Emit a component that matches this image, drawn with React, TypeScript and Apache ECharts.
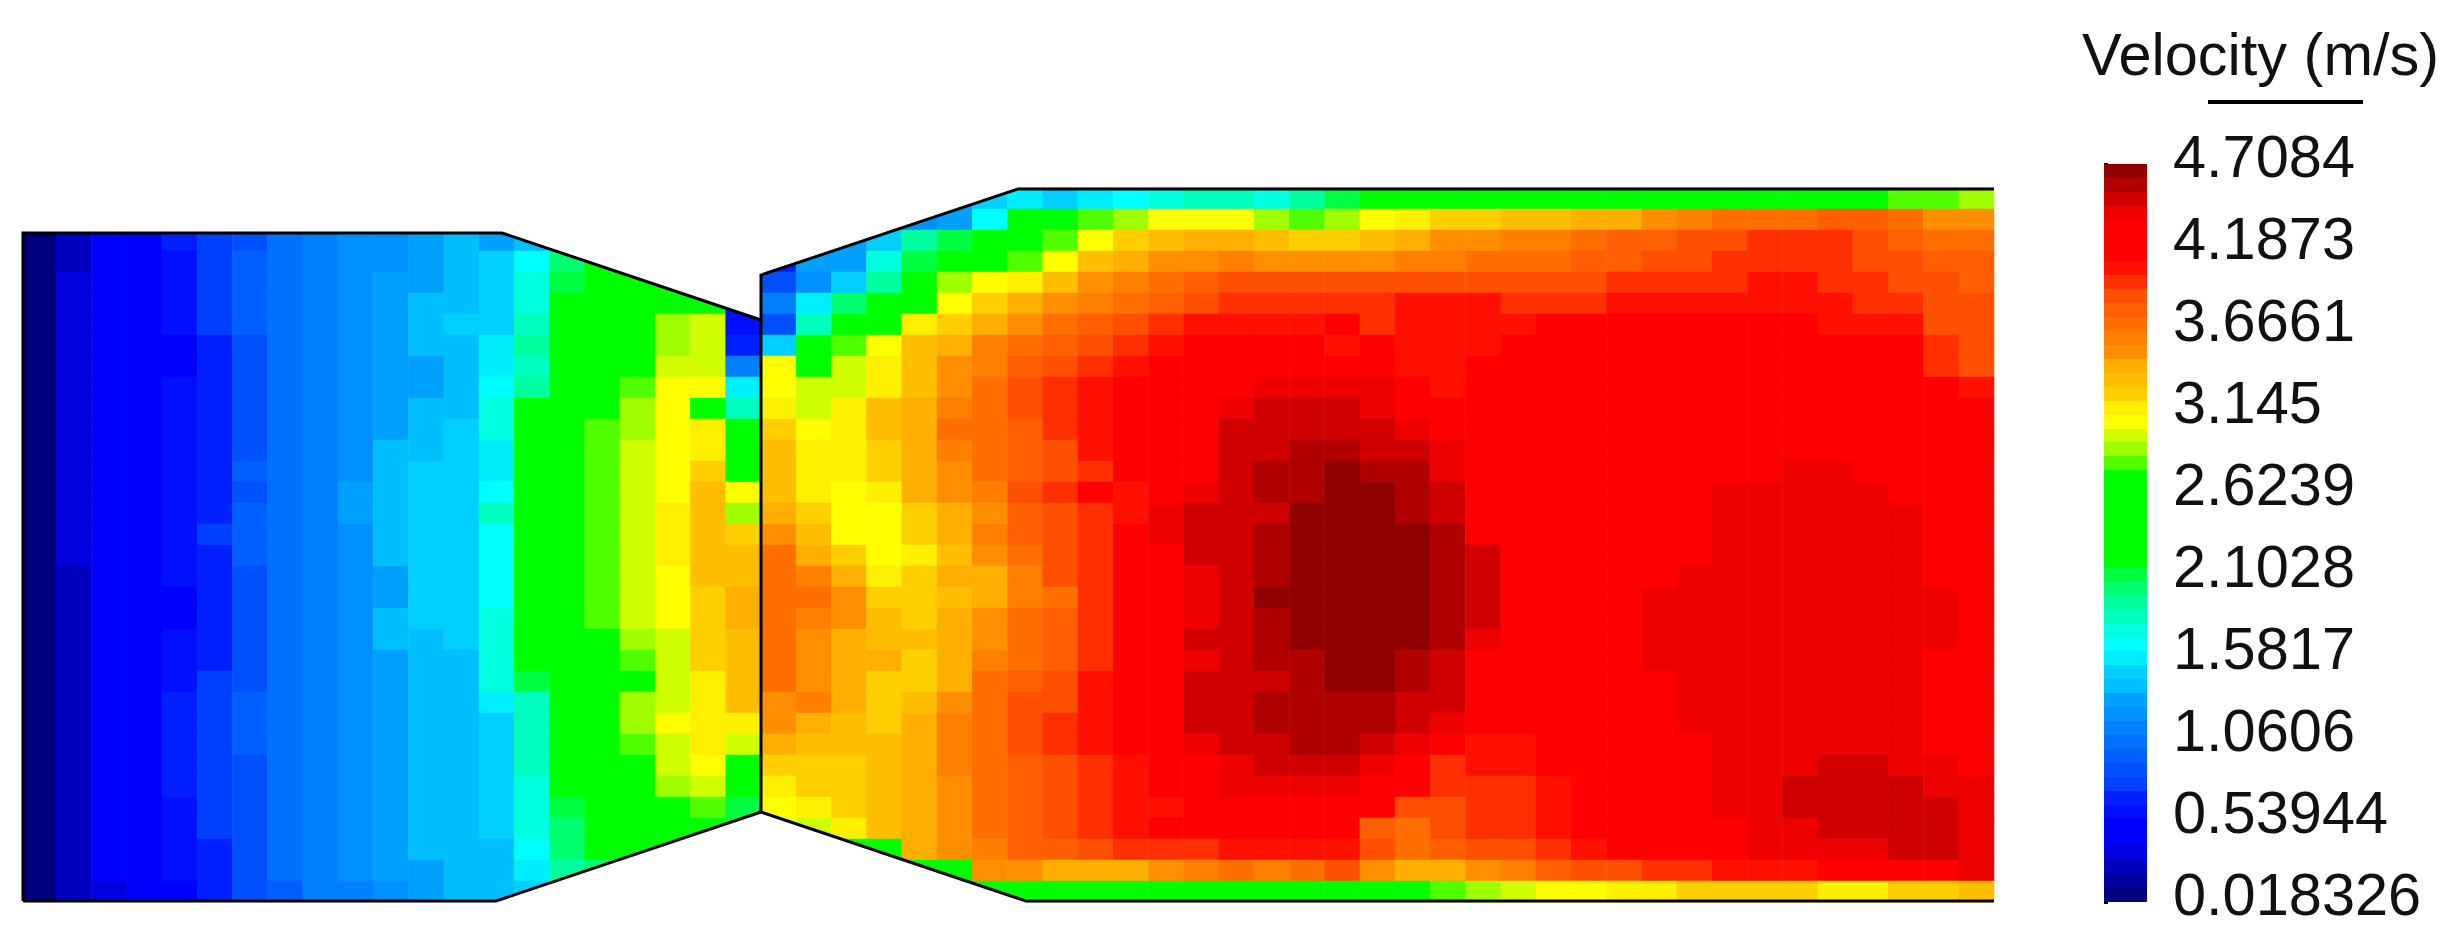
import React, { useEffect, useRef } from "react";
import * as echarts from "echarts";

const n = null;

// Velocity (m/s): inlet section, rows 2..33 of the mesh, 21 columns
const inletRows: (number | null)[][] = [
  [.1,.28,.42,.5,.65,.8,.9,1.0,1.13,1.22,1.22,1.31,1.4,1.31,1.4,1.6,n,n,n,n,n],
  [.1,.25,.42,.5,.6,.8,.95,1.0,1.13,1.22,1.22,1.31,1.4,1.49,1.67,2.0,2.4,n,n,n,n],
  [.08,.33,.45,.5,.6,.8,.95,1.04,1.13,1.22,1.31,1.31,1.4,1.49,1.75,2.1,2.4,2.4,2.4,n,n],
  [.08,.33,.42,.5,.6,.77,.95,1.04,1.13,1.22,1.31,1.36,1.4,1.49,1.75,2.2,2.4,2.4,2.4,2.4,.6],
  [.08,.3,.45,.5,.55,.75,.95,1.04,1.13,1.22,1.31,1.4,1.45,1.5,1.8,2.3,2.4,2.6,2.9,3.0,.55],
  [.08,.3,.45,.5,.5,.7,.9,1.04,1.13,1.22,1.31,1.4,1.4,1.58,1.9,2.3,2.4,2.7,2.9,3.0,.7],
  [.08,.3,.45,.5,.5,.65,.9,1.0,1.13,1.22,1.31,1.31,1.4,1.58,1.85,2.3,2.4,2.7,2.95,2.98,1.1],
  [.08,.3,.45,.5,.55,.68,.86,1.0,1.1,1.22,1.31,1.31,1.4,1.62,1.9,2.3,2.4,2.8,3.05,3.07,1.6],
  [.08,.3,.45,.5,.6,.72,.86,1.0,1.1,1.22,1.31,1.4,1.4,1.7,2.15,2.35,2.5,2.9,3.05,2.6,1.8],
  [.08,.3,.48,.5,.6,.72,.86,1.0,1.1,1.22,1.31,1.4,1.49,1.7,2.15,2.4,2.8,2.9,3.08,3.2,2.3],
  [.08,.33,.48,.5,.55,.72,.9,1.04,1.13,1.22,1.36,1.4,1.49,1.58,2.2,2.4,2.8,2.95,3.1,3.15,2.4],
  [.08,.33,.5,.5,.55,.68,.95,1.04,1.15,1.25,1.4,1.45,1.49,1.6,2.3,2.4,2.8,2.98,3.1,3.25,2.6],
  [.08,.33,.5,.5,.6,.68,.9,1.04,1.15,1.3,1.4,1.49,1.49,1.67,2.3,2.4,2.8,2.98,3.1,3.3,3.07],
  [.08,.33,.5,.5,.6,.72,.95,1.04,1.13,1.3,1.4,1.49,1.49,1.8,2.3,2.4,2.8,2.98,3.15,3.3,2.9],
  [.08,.33,.45,.5,.6,.75,.95,1.04,1.13,1.25,1.4,1.49,1.49,1.67,2.3,2.4,2.8,2.98,3.18,3.3,3.25],
  [.08,.3,.45,.5,.55,.72,.95,1.04,1.13,1.22,1.36,1.45,1.49,1.67,2.25,2.4,2.8,3.0,3.15,3.3,3.35],
  [.08,.28,.42,.5,.55,.68,.9,1.04,1.13,1.22,1.31,1.45,1.49,1.67,2.25,2.4,2.8,2.95,3.07,3.3,3.35],
  [.08,.28,.42,.5,.5,.65,.86,1.04,1.1,1.22,1.31,1.45,1.49,1.67,2.25,2.4,2.8,2.95,3.07,3.25,3.4],
  [.08,.28,.42,.5,.5,.65,.86,1.0,1.13,1.22,1.36,1.45,1.49,1.7,2.2,2.4,2.8,2.95,3.07,3.25,3.4],
  [.08,.28,.42,.45,.55,.68,.86,1.0,1.13,1.22,1.36,1.4,1.45,1.75,2.15,2.35,2.6,2.9,3.0,3.25,3.38],
  [.08,.28,.4,.45,.55,.72,.9,1.0,1.13,1.22,1.31,1.36,1.4,1.78,2.15,2.35,2.4,2.85,3.0,3.25,3.38],
  [.08,.25,.4,.45,.6,.77,.9,1.04,1.13,1.22,1.31,1.36,1.4,1.75,2.1,2.35,2.4,2.65,3.0,3.15,3.35],
  [.08,.25,.4,.45,.65,.8,.95,1.04,1.13,1.22,1.31,1.4,1.4,1.6,1.85,2.35,2.55,2.9,3.0,3.15,3.3],
  [.08,.25,.42,.5,.65,.8,.95,1.04,1.13,1.22,1.31,1.4,1.4,1.45,1.85,2.3,2.75,2.9,3.07,3.2,3.15],
  [.08,.25,.42,.5,.65,.8,.95,1.04,1.1,1.22,1.31,1.4,1.4,1.45,1.8,2.3,2.6,2.85,3.0,3.12,2.95],
  [.08,.25,.42,.5,.65,.8,.9,1.0,1.1,1.22,1.31,1.36,1.4,1.45,1.8,2.25,2.4,2.7,2.95,3.1,2.4],
  [.08,.25,.42,.5,.65,.75,.9,1.0,1.13,1.22,1.31,1.36,1.4,1.49,1.75,2.15,2.4,2.65,2.9,3.0,2.3],
  [.08,.25,.42,.5,.6,.75,.9,1.04,1.13,1.22,1.31,1.36,1.4,1.49,1.7,2.1,2.4,2.4,2.6,2.85,2.1],
  [.08,.25,.42,.5,.6,.75,.86,1.04,1.13,1.22,1.31,1.36,1.4,1.5,1.7,2.05,2.4,2.4,2.4,2.4,2.1],
  [.08,.25,.4,.45,.6,.72,.86,1.0,1.1,1.22,1.31,1.36,1.4,1.4,1.65,2.0,2.2,2.4,2.4,n,n],
  [.08,.25,.4,.45,.55,.7,.86,1.0,1.1,1.22,1.31,1.31,1.36,1.4,1.6,1.9,2.0,n,n,n,n],
  [.08,.22,.35,.45,.5,.68,.82,.95,1.1,1.13,1.22,1.31,1.36,1.4,1.5,n,n,n,n,n,n],
];

// Outlet section: rows 0..33, columns 21..55
const outletRows: (number | null)[][] = [
  [n,n,n,n,n,1.3,1.45,1.58,1.5,1.58,1.67,1.75,1.85,1.85,1.72,1.95,2.1,2.4,2.4,2.4,2.4,2.4,2.4,2.4,2.4,2.4,2.4,2.4,2.4,2.4,2.4,2.55,2.8,2.8,2.9],
  [n,n,n,n,1.22,1.3,1.67,2.3,2.4,2.8,2.9,3.05,3.1,3.1,2.9,2.8,2.9,3.07,3.16,3.25,3.25,3.33,3.33,3.42,3.42,3.55,3.6,3.69,3.69,3.7,3.78,3.78,3.7,3.55,3.5],
  [n,n,1.3,1.45,1.9,2.1,2.3,2.4,2.85,3.07,3.25,3.3,3.4,3.45,3.33,3.25,3.25,3.3,3.4,3.5,3.55,3.6,3.6,3.69,3.78,3.8,3.87,3.9,3.96,3.96,3.96,3.87,3.78,3.69,3.69],
  [.7,1.3,1.3,1.75,2.1,2.4,2.4,2.8,3.1,3.3,3.45,3.5,3.55,3.6,3.5,3.5,3.5,3.55,3.6,3.6,3.69,3.69,3.7,3.78,3.8,3.87,3.9,3.96,3.96,3.96,3.96,3.9,3.87,3.78,3.78],
  [.9,1.25,1.5,1.9,2.4,2.9,3.07,3.2,3.3,3.5,3.6,3.65,3.78,3.85,3.87,3.87,3.87,3.87,3.87,3.87,3.87,3.87,3.87,3.87,3.96,3.96,3.96,3.96,4.05,4.05,4.0,3.96,3.9,3.87,3.78],
  [1.13,1.6,2.0,2.3,2.7,3.05,3.25,3.4,3.5,3.6,3.69,3.78,3.9,3.96,3.96,3.96,3.96,3.96,4.05,4.05,4.05,3.96,3.96,3.96,4.05,4.05,4.05,4.05,4.05,4.05,4.05,3.96,3.96,3.87,3.87],
  [.9,1.85,2.3,2.4,3.16,3.25,3.4,3.55,3.65,3.78,3.87,3.96,4.05,4.05,4.05,4.05,4.1,3.96,4.05,4.05,4.05,4.05,4.2,4.2,4.2,4.2,4.2,4.2,4.2,4.2,4.05,4.05,4.05,3.9,3.87],
  [1.5,2.2,2.85,3.07,3.3,3.4,3.6,3.69,3.78,3.9,3.96,4.05,4.2,4.2,4.2,4.2,4.05,4.1,4.05,4.05,4.05,4.2,4.2,4.2,4.2,4.2,4.2,4.2,4.2,4.2,4.2,4.2,4.2,4.0,3.87],
  [3.05,2.7,3.0,3.16,3.35,3.5,3.6,3.78,3.87,3.96,4.05,4.2,4.2,4.2,4.2,4.2,4.2,4.1,4.05,4.05,4.2,4.2,4.2,4.2,4.2,4.2,4.2,4.2,4.2,4.2,4.2,4.2,4.2,4.0,3.87],
  [3.07,2.98,3.0,3.2,3.35,3.55,3.69,3.85,3.96,4.05,4.2,4.2,4.2,4.2,4.4,4.4,4.4,4.4,4.2,4.05,4.2,4.2,4.2,4.2,4.2,4.2,4.2,4.2,4.2,4.2,4.2,4.2,4.2,4.2,4.05],
  [3.2,3.0,3.15,3.3,3.4,3.6,3.69,3.87,3.96,4.05,4.2,4.2,4.2,4.4,4.45,4.49,4.49,4.4,4.3,4.2,4.2,4.2,4.2,4.2,4.2,4.2,4.2,4.2,4.2,4.2,4.2,4.2,4.2,4.2,4.2],
  [3.25,3.1,3.2,3.3,3.45,3.65,3.69,3.78,3.96,4.05,4.2,4.2,4.3,4.49,4.49,4.49,4.49,4.49,4.4,4.2,4.2,4.2,4.2,4.2,4.2,4.2,4.2,4.2,4.2,4.2,4.2,4.2,4.2,4.2,4.2],
  [3.3,3.2,3.16,3.25,3.45,3.6,3.65,3.78,3.87,4.05,4.2,4.2,4.3,4.45,4.5,4.58,4.58,4.49,4.49,4.4,4.2,4.2,4.2,4.2,4.2,4.2,4.2,4.2,4.2,4.2,4.2,4.2,4.2,4.2,4.2],
  [3.35,3.2,3.16,3.25,3.45,3.55,3.69,3.78,3.87,3.96,4.2,4.2,4.2,4.45,4.58,4.58,4.67,4.58,4.58,4.4,4.2,4.2,4.2,4.2,4.2,4.2,4.2,4.2,4.3,4.4,4.4,4.3,4.2,4.2,4.2],
  [3.35,3.2,3.1,3.2,3.4,3.5,3.6,3.85,3.96,4.2,4.05,4.3,4.4,4.49,4.58,4.6,4.67,4.67,4.58,4.49,4.2,4.2,4.2,4.2,4.2,4.2,4.2,4.4,4.4,4.4,4.4,4.4,4.3,4.2,4.2],
  [3.4,3.25,3.07,3.1,3.25,3.45,3.55,3.78,3.9,3.96,4.05,4.4,4.49,4.49,4.5,4.67,4.67,4.67,4.6,4.45,4.2,4.2,4.2,4.2,4.2,4.2,4.2,4.4,4.4,4.4,4.4,4.4,4.4,4.2,4.2],
  [3.5,3.3,3.07,3.07,3.25,3.42,3.6,3.78,3.87,3.96,4.2,4.4,4.49,4.49,4.58,4.67,4.67,4.67,4.67,4.58,4.3,4.2,4.2,4.2,4.2,4.2,4.3,4.4,4.4,4.4,4.4,4.4,4.4,4.2,4.2],
  [3.65,3.45,3.25,3.1,3.2,3.36,3.5,3.7,3.87,3.96,4.2,4.2,4.45,4.49,4.58,4.67,4.67,4.67,4.67,4.6,4.49,4.2,4.2,4.2,4.2,4.2,4.3,4.4,4.4,4.4,4.4,4.4,4.4,4.2,4.2],
  [3.7,3.6,3.4,3.16,3.25,3.4,3.45,3.6,3.87,3.96,4.2,4.3,4.4,4.5,4.58,4.67,4.67,4.67,4.67,4.58,4.49,4.2,4.2,4.2,4.2,4.2,4.4,4.4,4.4,4.4,4.4,4.4,4.4,4.3,4.2],
  [3.69,3.69,3.5,3.25,3.25,3.38,3.45,3.6,3.7,3.96,4.2,4.2,4.4,4.49,4.67,4.67,4.67,4.67,4.67,4.58,4.49,4.2,4.2,4.2,4.2,4.4,4.4,4.4,4.4,4.4,4.4,4.4,4.4,4.4,4.2],
  [3.72,3.6,3.55,3.35,3.25,3.4,3.55,3.65,3.8,3.96,4.2,4.2,4.4,4.5,4.6,4.67,4.67,4.67,4.67,4.58,4.49,4.2,4.2,4.2,4.2,4.4,4.4,4.4,4.4,4.4,4.4,4.4,4.4,4.4,4.2],
  [3.72,3.55,3.45,3.35,3.3,3.42,3.55,3.69,3.78,3.96,4.2,4.3,4.5,4.5,4.6,4.67,4.67,4.67,4.67,4.58,4.4,4.2,4.2,4.2,4.3,4.4,4.4,4.4,4.4,4.4,4.4,4.4,4.4,4.4,4.2],
  [3.72,3.55,3.4,3.4,3.25,3.4,3.6,3.7,3.78,3.96,4.15,4.2,4.4,4.49,4.58,4.6,4.67,4.67,4.58,4.5,4.2,4.2,4.2,4.2,4.2,4.4,4.4,4.4,4.4,4.4,4.4,4.4,4.4,4.2,4.2],
  [3.72,3.5,3.4,3.25,3.25,3.45,3.65,3.78,3.87,4.05,4.2,4.3,4.45,4.49,4.49,4.58,4.67,4.67,4.58,4.45,4.2,4.2,4.2,4.2,4.2,4.3,4.4,4.4,4.4,4.4,4.4,4.4,4.4,4.2,4.2],
  [3.55,3.6,3.4,3.25,3.35,3.5,3.69,3.85,3.9,4.05,4.2,4.3,4.49,4.49,4.58,4.58,4.58,4.58,4.49,4.45,4.2,4.2,4.2,4.2,4.2,4.2,4.4,4.4,4.4,4.4,4.4,4.4,4.4,4.2,4.2],
  [3.5,3.4,3.33,3.25,3.4,3.6,3.69,3.85,3.96,4.05,4.2,4.3,4.45,4.49,4.58,4.58,4.58,4.58,4.49,4.4,4.2,4.2,4.2,4.2,4.2,4.2,4.4,4.4,4.4,4.4,4.4,4.4,4.4,4.2,4.2],
  [3.4,3.3,3.3,3.3,3.4,3.6,3.69,3.85,3.96,4.05,4.2,4.2,4.4,4.45,4.49,4.58,4.58,4.49,4.4,4.2,4.05,4.05,4.2,4.2,4.2,4.2,4.2,4.4,4.4,4.4,4.4,4.4,4.4,4.2,4.2],
  [3.25,3.25,3.25,3.35,3.45,3.6,3.7,3.8,3.9,3.96,4.05,4.2,4.3,4.4,4.49,4.49,4.49,4.4,4.2,3.96,4.05,4.05,4.2,4.2,4.2,4.2,4.2,4.4,4.4,4.4,4.49,4.45,4.4,4.4,4.2],
  [3.2,3.25,3.25,3.3,3.45,3.55,3.7,3.8,3.87,3.96,4.05,4.15,4.2,4.4,4.4,4.4,4.4,4.3,4.1,3.96,3.96,3.96,4.05,4.2,4.2,4.2,4.2,4.4,4.4,4.49,4.49,4.49,4.49,4.4,4.4],
  [3.1,3.16,3.25,3.3,3.4,3.55,3.69,3.75,3.87,3.96,4.05,4.05,4.2,4.2,4.3,4.2,4.2,4.1,3.9,3.9,3.96,4.0,4.05,4.2,4.2,4.2,4.2,4.4,4.4,4.49,4.49,4.49,4.49,4.49,4.4],
  [3.1,3.0,3.2,3.3,3.45,3.55,3.65,3.8,3.9,3.96,4.05,4.2,4.2,4.2,4.2,4.2,4.2,3.75,3.7,3.87,3.96,3.96,4.05,4.2,4.2,4.2,4.2,4.2,4.4,4.4,4.49,4.49,4.49,4.49,4.4],
  [n,n,2.4,2.4,3.4,3.5,3.6,3.75,3.78,3.87,3.96,3.96,3.96,4.05,4.05,4.05,4.05,3.9,3.65,3.8,3.87,3.87,3.96,4.05,4.2,4.2,4.2,4.2,4.4,4.4,4.4,4.4,4.49,4.49,4.4],
  [n,n,n,n,2.4,2.4,3.5,3.5,3.45,3.45,3.45,3.55,3.6,3.65,3.6,3.7,3.87,3.5,3.4,3.45,3.5,3.6,3.78,3.87,3.9,3.96,3.96,4.05,4.05,4.05,4.2,4.2,4.2,4.2,4.4],
  [n,n,n,n,n,n,2.4,2.7,2.4,2.4,2.4,2.4,2.4,2.7,2.7,2.7,2.4,2.4,2.7,2.85,2.9,2.98,3.07,3.07,3.16,3.16,3.25,3.25,3.25,3.25,3.16,3.16,3.25,3.25,3.33],
];

const legendTitle = "Velocity (m/s)";
const tickValues = [0.018326, 0.53944, 1.0606, 1.5817, 2.1028, 2.6239, 3.145, 3.6661, 4.1873, 4.7084];
const scaleMin = 0.018326;
const scaleMax = 4.7084;
// Discrete colour levels of the scale, low to high
const levelColors = [
  "#00007F","#00009F","#0000BF","#0000DF","#0000FF","#0000FF","#0010FF","#0020FF","#0040FF","#0050FF",
  "#0060FF","#0070FF","#0080FF","#0090FF","#00A0FF","#00BFFF","#00CFFF","#00EFFF","#00FFFF","#00FFDF",
  "#00FFBF","#00FF9F","#00FF6F","#00FF40","#00FF00","#00FF00","#00FF00","#00FF00","#00FF00","#00FF00",
  "#00FF00","#50FF00","#9FFF00","#CFFF00","#FFFF00","#FFEF00","#FFCF00","#FFBF00","#FFAF00","#FF8F00",
  "#FF7F00","#FF6F00","#FF5F00","#FF4F00","#FF2F00","#FF1000","#FF0000","#FF0000","#FF0000","#EF0000",
  "#D00000","#B00000","#900000",
];

export default function App() {
  const ref = useRef<HTMLDivElement>(null);
  useEffect(() => {
    if (!ref.current) return;
    const chart = echarts.init(ref.current, undefined, { renderer: "svg" });
    const colCount = 56;
    const rowCount = 34;
    const cells: [number, number, number][] = [];
    inletRows.forEach((row, r) =>
      row.forEach((v, c) => { if (v !== null) cells.push([c, r + 2, v]); }));
    outletRows.forEach((row, r) =>
      row.forEach((v, c) => { if (v !== null) cells.push([c + 21, r, v]); }));
    const step = (scaleMax - scaleMin) / levelColors.length;
    const pieces = levelColors.map((color, i) => ({
      gte: scaleMin + i * step - (i === 0 ? 1 : 0),
      lt: scaleMin + (i + 1) * step + (i === levelColors.length - 1 ? 1 : 0),
      color,
    }));
    const barData = levelColors.map((_, i) => [0, scaleMin + i * step, scaleMin + (i + 1) * step, i]);
    const font = "'Liberation Sans', Arial, sans-serif";
    const white = { fill: "#fff", stroke: "#fff", lineWidth: 1 };
    const black = { stroke: "#000", lineWidth: 3, fill: "none" as any };
    chart.setOption({
      animation: false,
      backgroundColor: "#fff",
      title: {
        text: legendTitle,
        left: 2082,
        top: 24,
        padding: 0,
        textStyle: { fontFamily: font, fontSize: 59.5, fontWeight: "normal", color: "#111" },
      },
      grid: [
        { left: 21, top: 188, width: 1973, height: 714 },
        { left: 2104, top: 164, width: 43, height: 738 },
      ],
      xAxis: [
        { type: "category", gridIndex: 0, show: false, data: Array.from({ length: colCount }, (_, i) => i) },
        { type: "value", gridIndex: 1, show: false, min: 0, max: 1 },
      ],
      yAxis: [
        { type: "category", gridIndex: 0, show: false, inverse: true, data: Array.from({ length: rowCount }, (_, i) => i) },
        {
          type: "value",
          gridIndex: 1,
          position: "right",
          min: scaleMin,
          max: scaleMax,
          splitLine: { show: false },
          axisLine: { show: false },
          axisTick: { show: true, length: 4, lineStyle: { color: "#000", width: 3 }, customValues: tickValues },
          axisLabel: {
            show: true,
            margin: 26,
            customValues: tickValues,
            formatter: (v: number) => String(v),
            fontFamily: font,
            fontSize: 59.5,
            color: "#111",
            verticalAlign: "bottom",
            lineHeight: 15,
          },
        },
      ],
      visualMap: { type: "piecewise", show: false, seriesIndex: 0, pieces, dimension: 2 },
      series: [
        {
          type: "heatmap",
          xAxisIndex: 0,
          yAxisIndex: 0,
          data: cells,
          silent: true,
          progressive: 0,
        },
        {
          type: "custom",
          xAxisIndex: 1,
          yAxisIndex: 1,
          silent: true,
          data: barData,
          encode: { x: 0, y: [1, 2] },
          renderItem: (_: any, api: any) => {
            const a = api.coord([0, api.value(1)]);
            const b = api.coord([1, api.value(2)]);
            return {
              type: "rect",
              shape: { x: a[0], y: Math.round(b[1]), width: b[0] - a[0], height: Math.round(a[1]) - Math.round(b[1]) },
              style: { fill: levelColors[api.value(3)] },
            };
          },
        },
      ],
      graphic: [
        { type: "polygon", z: 100, silent: true, shape: { points: [[0, 170], [1020, 170], [1018, 188], [761, 275], [761, 320], [502, 232], [23, 232], [23, 901], [496, 901], [761, 812], [1026, 901], [1026, 910], [0, 910]] }, style: white },
        { type: "polyline", z: 101, silent: true, shape: { points: [[23, 901], [23, 233], [502, 233], [761, 320]] }, style: black },
        { type: "polyline", z: 101, silent: true, shape: { points: [[23, 901], [496, 901], [761, 812]] }, style: black },
        { type: "polyline", z: 101, silent: true, shape: { points: [[761, 812], [761, 275], [1018, 189], [1994, 189]] }, style: black },
        { type: "polyline", z: 101, silent: true, shape: { points: [[761, 812], [1026, 901], [1994, 901]] }, style: black },
        { type: "line", z: 101, silent: true, shape: { x1: 2208, y1: 102, x2: 2363, y2: 102 }, style: { stroke: "#000", lineWidth: 4 } },
      ],
    });
    return () => chart.dispose();
  }, []);
  return <div ref={ref} style={{ position: "absolute", left: 0, top: 0, width: 2459, height: 946 }} />;
}
